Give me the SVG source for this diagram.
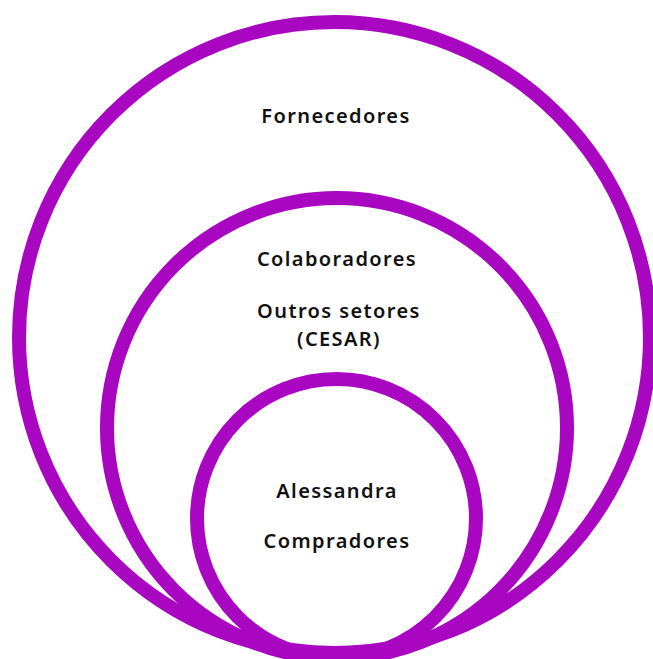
<svg xmlns="http://www.w3.org/2000/svg" width="653" height="659" viewBox="0 0 653 659">
<style>
.ring{fill:none;stroke:#A906C1;stroke-width:14}
.lbl{font-family:"Noto Sans","Liberation Sans",sans-serif;font-weight:600;font-size:20px;letter-spacing:1.4px;fill:#111;text-anchor:middle}
</style>
<rect width="653" height="659" fill="#fff"/>
<g id="outer"><circle class="ring" cx="334.5" cy="337.5" r="315.5"/>
<text class="lbl" x="336" y="123">Fornecedores</text></g>
<g id="middle"><circle class="ring" cx="337" cy="428" r="230"/>
<text class="lbl" x="337" y="266">Colaboradores</text>
<text class="lbl" x="339" y="318">Outros setores</text>
<text class="lbl" x="339" y="346">(CESAR)</text></g>
<g id="inner"><circle class="ring" cx="336.5" cy="518.5" r="139.5"/>
<text class="lbl" x="337" y="498">Alessandra</text>
<text class="lbl" x="337" y="548">Compradores</text></g>
</svg>
